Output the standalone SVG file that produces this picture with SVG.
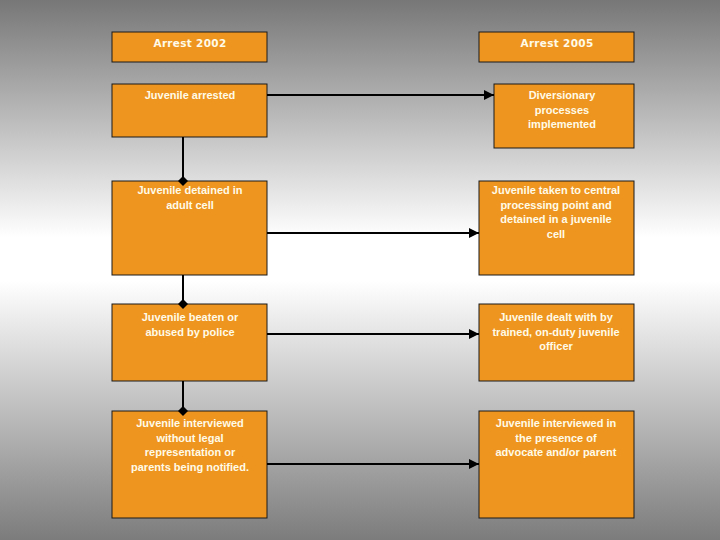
<svg xmlns="http://www.w3.org/2000/svg" width="720" height="540" viewBox="0 0 720 540">
<defs>
<linearGradient id="bg" x1="0" y1="0" x2="0" y2="1">
<stop offset="0" stop-color="#777777"/>
<stop offset="0.44" stop-color="#ffffff"/>
<stop offset="0.52" stop-color="#ffffff"/>
<stop offset="1" stop-color="#7c7c7c"/>
</linearGradient>
<marker id="arrow" viewBox="0 0 10 10" refX="10" refY="5" markerWidth="10" markerHeight="10" markerUnits="userSpaceOnUse" orient="auto">
<path d="M0,0 L10,5 L0,10 z" fill="#000"/>
</marker>
<marker id="diamond" viewBox="0 0 10 10" refX="5" refY="5" markerWidth="10" markerHeight="10" markerUnits="userSpaceOnUse" orient="auto">
<path d="M0,5 L5,0 L10,5 L5,10 z" fill="#000"/>
</marker>
</defs>
<style>
.box{fill:#ee951f;stroke:#1a1a1a;stroke-width:1}
.t{font-family:"Liberation Sans",Arial,sans-serif;font-size:11px;font-weight:bold;fill:#fffbe8;text-anchor:middle}
.h{font-family:"DejaVu Sans",sans-serif;font-size:10.5px;font-weight:bold;fill:#fffbe8;text-anchor:middle;letter-spacing:0.3px}
.c{stroke:#000;stroke-width:2;fill:none}
</style>
<rect x="0" y="0" width="720" height="540" fill="url(#bg)"/>
<g id="h2002"><rect class="box" x="112" y="32" width="155" height="30"/><text class="h" x="190" y="47">Arrest 2002</text></g>
<g id="h2005"><rect class="box" x="479" y="32" width="155" height="30"/><text class="h" x="557" y="47">Arrest 2005</text></g>
<g id="l1"><rect class="box" x="112" y="84" width="155" height="53"/><text class="t" x="190" y="99">Juvenile arrested</text></g>
<g id="r1"><rect class="box" x="494" y="84" width="140" height="64"/><text class="t" x="562" y="99">Diversionary</text><text class="t" x="562" y="114">processes</text><text class="t" x="562" y="128">implemented</text></g>
<g id="l2"><rect class="box" x="112" y="181" width="155" height="94"/><text class="t" x="190" y="194">Juvenile detained in</text><text class="t" x="190" y="209">adult cell</text></g>
<g id="r2"><rect class="box" x="479" y="181" width="155" height="94"/><text class="t" x="556" y="194">Juvenile taken to central</text><text class="t" x="556" y="209">processing point and</text><text class="t" x="556" y="223">detained in a juvenile</text><text class="t" x="556" y="238">cell</text></g>
<g id="l3"><rect class="box" x="112" y="304" width="155" height="77"/><text class="t" x="190" y="321">Juvenile beaten or</text><text class="t" x="190" y="336">abused by police</text></g>
<g id="r3"><rect class="box" x="479" y="304" width="155" height="77"/><text class="t" x="556" y="321">Juvenile dealt with by</text><text class="t" x="556" y="336">trained, on-duty juvenile</text><text class="t" x="556" y="350">officer</text></g>
<g id="l4"><rect class="box" x="112" y="411" width="155" height="107"/><text class="t" x="190" y="427">Juvenile interviewed</text><text class="t" x="190" y="442">without legal</text><text class="t" x="190" y="456">representation or</text><text class="t" x="190" y="471">parents being notified.</text></g>
<g id="r4"><rect class="box" x="479" y="411" width="155" height="107"/><text class="t" x="556" y="427">Juvenile interviewed in</text><text class="t" x="556" y="442">the presence of</text><text class="t" x="556" y="456">advocate and/or parent</text></g>
<g id="connectors">
<line class="c" x1="183" y1="137" x2="183" y2="181" marker-end="url(#diamond)"/>
<line class="c" x1="183" y1="275" x2="183" y2="304" marker-end="url(#diamond)"/>
<line class="c" x1="183" y1="381" x2="183" y2="411" marker-end="url(#diamond)"/>
<line class="c" x1="267" y1="95" x2="494" y2="95" marker-end="url(#arrow)"/>
<line class="c" x1="267" y1="233" x2="479" y2="233" marker-end="url(#arrow)"/>
<line class="c" x1="267" y1="334" x2="479" y2="334" marker-end="url(#arrow)"/>
<line class="c" x1="267" y1="464" x2="479" y2="464" marker-end="url(#arrow)"/>
</g>
</svg>
